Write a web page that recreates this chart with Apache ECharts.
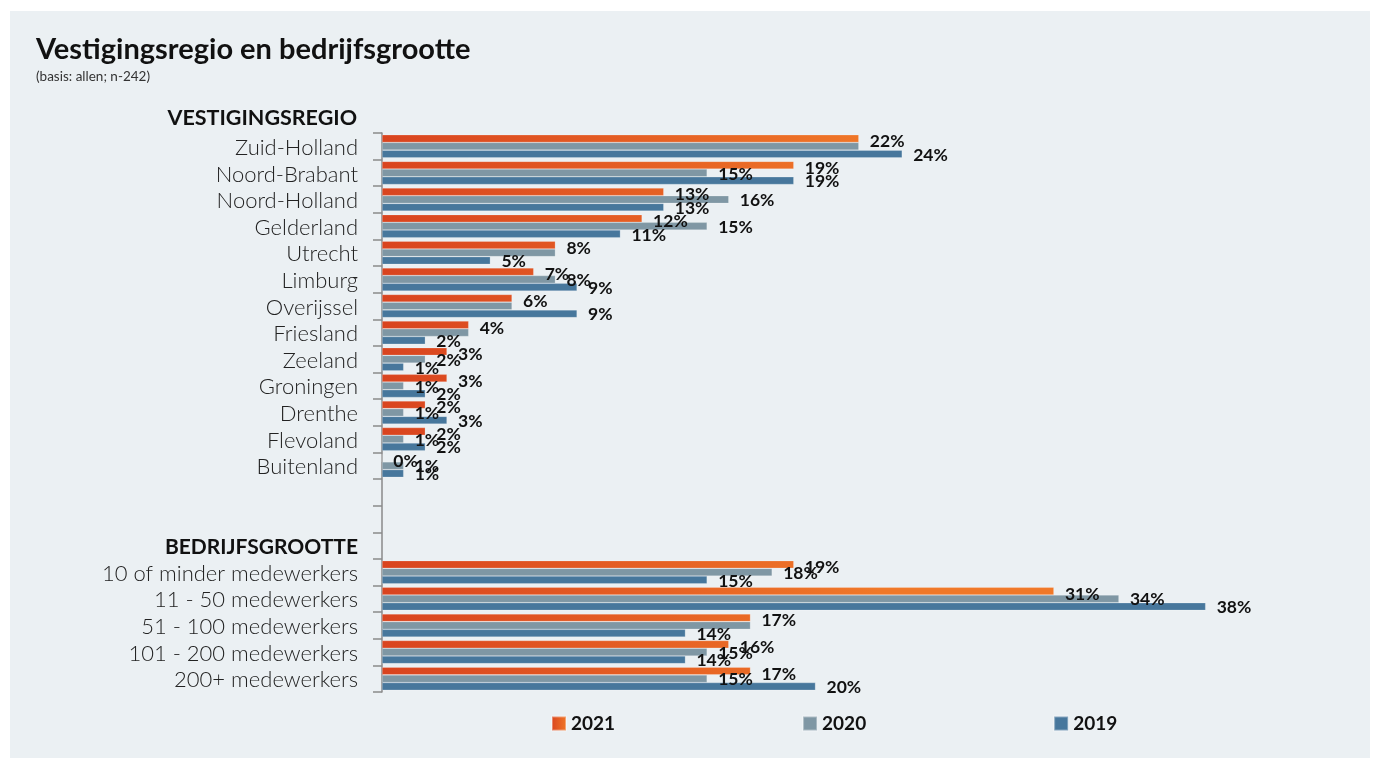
<!DOCTYPE html>
<html>
<head>
<meta charset="utf-8">
<script src="https://cdn.jsdelivr.net/npm/echarts@6/dist/echarts.min.js"></script>
<style>
  html, body { margin: 0; padding: 0; background: #ffffff; }
  #chart { width: 1376px; height: 758px; }
</style>
</head>
<body>
<div id="chart"></div>
<script>
// Category rows, top to bottom (blank rows separate the two blocks)
const regions = ['Zuid-Holland', 'Noord-Brabant', 'Noord-Holland', 'Gelderland', 'Utrecht', 'Limburg',
  'Overijssel', 'Friesland', 'Zeeland', 'Groningen', 'Drenthe', 'Flevoland', 'Buitenland'];
const sizes = ['10 of minder medewerkers', '11 - 50 medewerkers', '51 - 100 medewerkers',
  '101 - 200 medewerkers', '200+ medewerkers'];
const regionHeader = 'VESTIGINGSREGIO';
const sizeHeader = 'BEDRIJFSGROOTTE';
const years = ['2021', '2020', '2019'];

// Percentages per year (regions, then company sizes)
const region2021 = [22, 19, 13, 12, 8, 7, 6, 4, 3, 3, 2, 2, 0];
const region2020 = [22, 15, 16, 15, 8, 8, 6, 4, 2, 1, 1, 1, 1];
const region2019 = [24, 19, 13, 11, 5, 9, 9, 2, 1, 2, 3, 2, 1];
const size2021 = [19, 31, 17, 16, 17];
const size2020 = [18, 34, 17, 15, 15];
const size2019 = [15, 38, 14, 14, 20];

const gapRows = [' ', '  ', sizeHeader];
const categories = regions.concat(gapRows, sizes);
const pad = gapRows.map(() => null);
const seriesValues = [
  region2021.concat(pad, size2021),
  region2020.concat(pad, size2020),
  region2019.concat(pad, size2019)
];

const AXIS_LEFT = 382;
const orangeBars = {
  type: 'linear', x: AXIS_LEFT, y: 0, x2: 880, y2: 0, global: true,
  colorStops: [{ offset: 0, color: '#d9441f' }, { offset: 1, color: '#f07828' }]
};
const orangeIcon = {
  type: 'linear', x: 0, y: 0, x2: 1, y2: 0,
  colorStops: [{ offset: 0, color: '#d9441f' }, { offset: 1, color: '#f07828' }]
};
const colors = [orangeBars, '#7f97a4', '#47779c'];

// A 2020 label equal to the 2021 label right above it is left out (one shared label)
function labelText(seriesIndex, p) {
  if (p.value == null) return '';
  if (seriesIndex === 1 && seriesValues[0][p.dataIndex] === p.value) return '';
  return p.value + '%';
}

function valueLabel(seriesIndex) {
  return {
    show: true,
    position: 'right',
    distance: 11,
    offset: [0, seriesIndex === 0 ? 3 : 1],
    formatter: p => labelText(seriesIndex, p),
    fontFamily: 'Lato',
    fontWeight: 'bold',
    fontSize: 17.5,
    color: '#111111'
  };
}

const chart = echarts.init(document.getElementById('chart'), null, { renderer: 'canvas' });

chart.setOption({
  backgroundColor: '#ffffff',
  animation: false,
  textStyle: { fontFamily: 'Lato' },
  graphic: [
    {
      type: 'rect', z: -100, silent: true,
      shape: { x: 10, y: 11, width: 1360, height: 747 },
      style: { fill: '#ebf0f3' }
    },
    {
      type: 'text', left: 36, top: 35,
      style: { text: 'Vestigingsregio en bedrijfsgrootte', font: 'bold 29px Lato', fill: '#111111' }
    },
    {
      type: 'text', left: 36, top: 70,
      style: { text: '(basis: allen; n-242)', font: '13.5px Lato', fill: '#333333' }
    },
    {
      type: 'text', x: 357, y: 118,
      style: {
        text: regionHeader, font: 'bold 21.5px Lato', fill: '#111111',
        align: 'right', verticalAlign: 'middle'
      }
    }
  ],
  legend: {
    left: 546, top: 709,
    itemGap: 187,
    itemWidth: 14, itemHeight: 14,
    icon: 'rect',
    textStyle: { fontFamily: 'Lato', fontWeight: 'bold', fontSize: 19, color: '#111111' },
    data: [
      { name: '2021', itemStyle: { color: orangeIcon } },
      { name: '2020' },
      { name: '2019' }
    ]
  },
  grid: { left: AXIS_LEFT, top: 133, bottom: 66, right: 127, containLabel: false },
  xAxis: {
    type: 'value', min: 0, max: 40,
    show: false, splitLine: { show: false }
  },
  yAxis: {
    type: 'category',
    inverse: true,
    data: categories,
    axisLine: { show: true, lineStyle: { color: '#8a8a8a', width: 1.5 } },
    axisTick: { show: true, length: 9, interval: 0, lineStyle: { color: '#8a8a8a', width: 1.5 } },
    axisLabel: {
      interval: 0,
      margin: 24,
      padding: [3, 0, 0, 0],
      fontFamily: 'Lato',
      fontWeight: 300,
      fontSize: 22,
      color: '#222222',
      formatter: v => (v === sizeHeader ? '{h|' + v + '}' : v),
      rich: { h: { fontFamily: 'Lato', fontWeight: 'bold', fontSize: 21, color: '#111111' } }
    }
  },
  series: years.map((y, i) => ({
    name: y,
    type: 'bar',
    data: seriesValues[i],
    barGap: '0%',
    barCategoryGap: '13%',
    itemStyle: { color: colors[i], borderColor: 'rgba(255,255,255,0.35)', borderWidth: 0.6 },
    label: valueLabel(i)
  }))
});
</script>
</body>
</html>
